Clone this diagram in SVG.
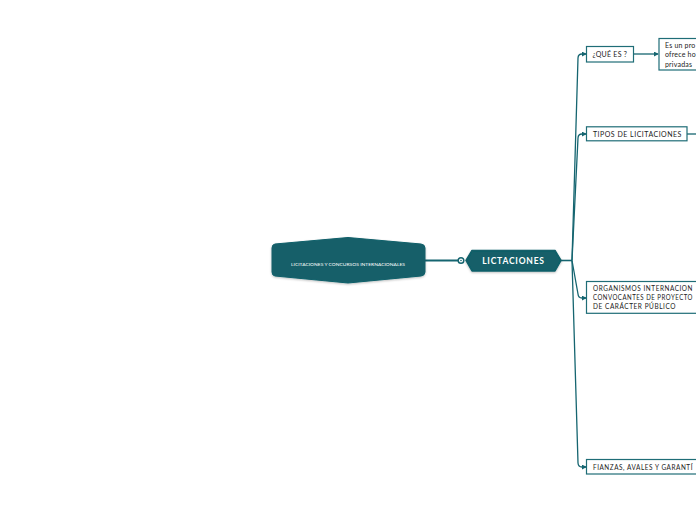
<svg xmlns="http://www.w3.org/2000/svg" width="696" height="520" viewBox="0 0 696 520">
<defs>
<marker id="arr" viewBox="0 0 6 6" refX="5" refY="3" markerWidth="5" markerHeight="5" orient="auto" markerUnits="userSpaceOnUse">
<path d="M0,0 L6,3 L0,6 Z" fill="#156570"/>
</marker>
<filter id="sh" x="-10%" y="-20%" width="120%" height="150%">
<feDropShadow dx="0" dy="1" stdDeviation="1.2" flood-color="#000" flood-opacity="0.25"/>
</filter>
<style>
.hex{fill:#125f69;stroke:#125f69;stroke-linejoin:round;}
.box{fill:#ffffff;stroke:#1f6d77;stroke-width:1.2;}
.t{font-family:"Lato","Liberation Sans",sans-serif;font-size:7px;fill:#222;letter-spacing:0.6px;}
.w{font-family:"Lato","Liberation Sans",sans-serif;fill:#ffffff;}
.c{fill:none;stroke:#156570;stroke-width:1.3;}
</style>
</defs>
<rect width="696" height="520" fill="#ffffff"/>
<g id="connectors">
<path class="c" d="M425,260.5 L458,260.5" style="stroke-width:2"/>
<path class="c" d="M561,260.5 L572,260.5" style="stroke-width:1.6"/>
<path class="c" d="M572,260.5 L578,58 Q578.2,54 582,54 L586,54" marker-end="url(#arr)"/>
<path class="c" d="M572,260.5 L578,138 Q578.2,134 582,134 L586,134" marker-end="url(#arr)"/>
<path class="c" d="M572,260.5 L578,294 Q578.3,298 582,298 L586,298" marker-end="url(#arr)"/>
<path class="c" d="M572,260.5 L578,463 Q578.3,467 582,467 L586,467" marker-end="url(#arr)"/>
<path class="c" d="M634,54 L658,54" marker-end="url(#arr)"/>
<path class="c" d="M687,134 L696,134"/>
<circle cx="461" cy="260.5" r="2.8" fill="#ffffff" stroke="#156570" stroke-width="1.5"/>
<circle cx="461" cy="260.5" r="0.8" fill="#156570"/>
</g>
<g id="root">
<path class="hex" filter="url(#sh)" d="M275,244 L348,237.5 L421,244 Q425,244.5 425,248 L425,272 Q425,275.5 421,276 L348,283 L275,276 Q272,275.5 272,272 L272,248 Q272,244.5 275,244 Z"/>
<text class="w" x="348" y="265.5" font-size="4.5" text-anchor="middle" textLength="114" lengthAdjust="spacingAndGlyphs">LICITACIONES Y CONCURSOS INTERNACIONALES</text>
</g>
<g id="lictaciones">
<path class="hex" filter="url(#sh)" stroke-width="1.5" d="M466,260.5 L472,250.5 L555,250.5 L561,260.5 L555,271 L472,271 Z"/>
<text class="w" x="513.5" y="264" font-size="8.5" text-anchor="middle" letter-spacing="0.8" font-weight="bold">LICTACIONES</text>
</g>
<g id="que-es">
<rect class="box" x="586.5" y="46.5" width="47" height="15.5"/>
<text class="t" x="592.5" y="57" textLength="35" lengthAdjust="spacing">¿QUÉ ES ?</text>
</g>
<g id="definicion">
<rect class="box" x="659" y="38.5" width="50" height="31.5"/>
<text class="t" x="665" y="47.5" style="letter-spacing:0.2px">Es un pro</text>
<text class="t" x="665" y="57" style="letter-spacing:0.2px">ofrece ho</text>
<text class="t" x="665" y="66.5" style="letter-spacing:0.2px">privadas</text>
</g>
<g id="tipos">
<rect class="box" x="586.5" y="126.8" width="100.5" height="14"/>
<text class="t" x="593" y="136.5" textLength="89" lengthAdjust="spacing">TIPOS DE LICITACIONES</text>
</g>
<g id="organismos">
<rect class="box" x="586.5" y="281.5" width="120" height="31.8"/>
<text class="t" x="593" y="290.5" textLength="100" lengthAdjust="spacingAndGlyphs">ORGANISMOS INTERNACION</text>
<text class="t" x="593" y="299.5" textLength="100" lengthAdjust="spacingAndGlyphs">CONVOCANTES DE PROYECTO</text>
<text class="t" x="593" y="308.5" textLength="83" lengthAdjust="spacingAndGlyphs">DE CARÁCTER PÚBLICO</text>
</g>
<g id="fianzas">
<rect class="box" x="586.5" y="459.5" width="120" height="14.5"/>
<text class="t" x="593" y="469.5" textLength="100" lengthAdjust="spacingAndGlyphs">FIANZAS, AVALES Y GARANTÍ</text>
</g>
</svg>
